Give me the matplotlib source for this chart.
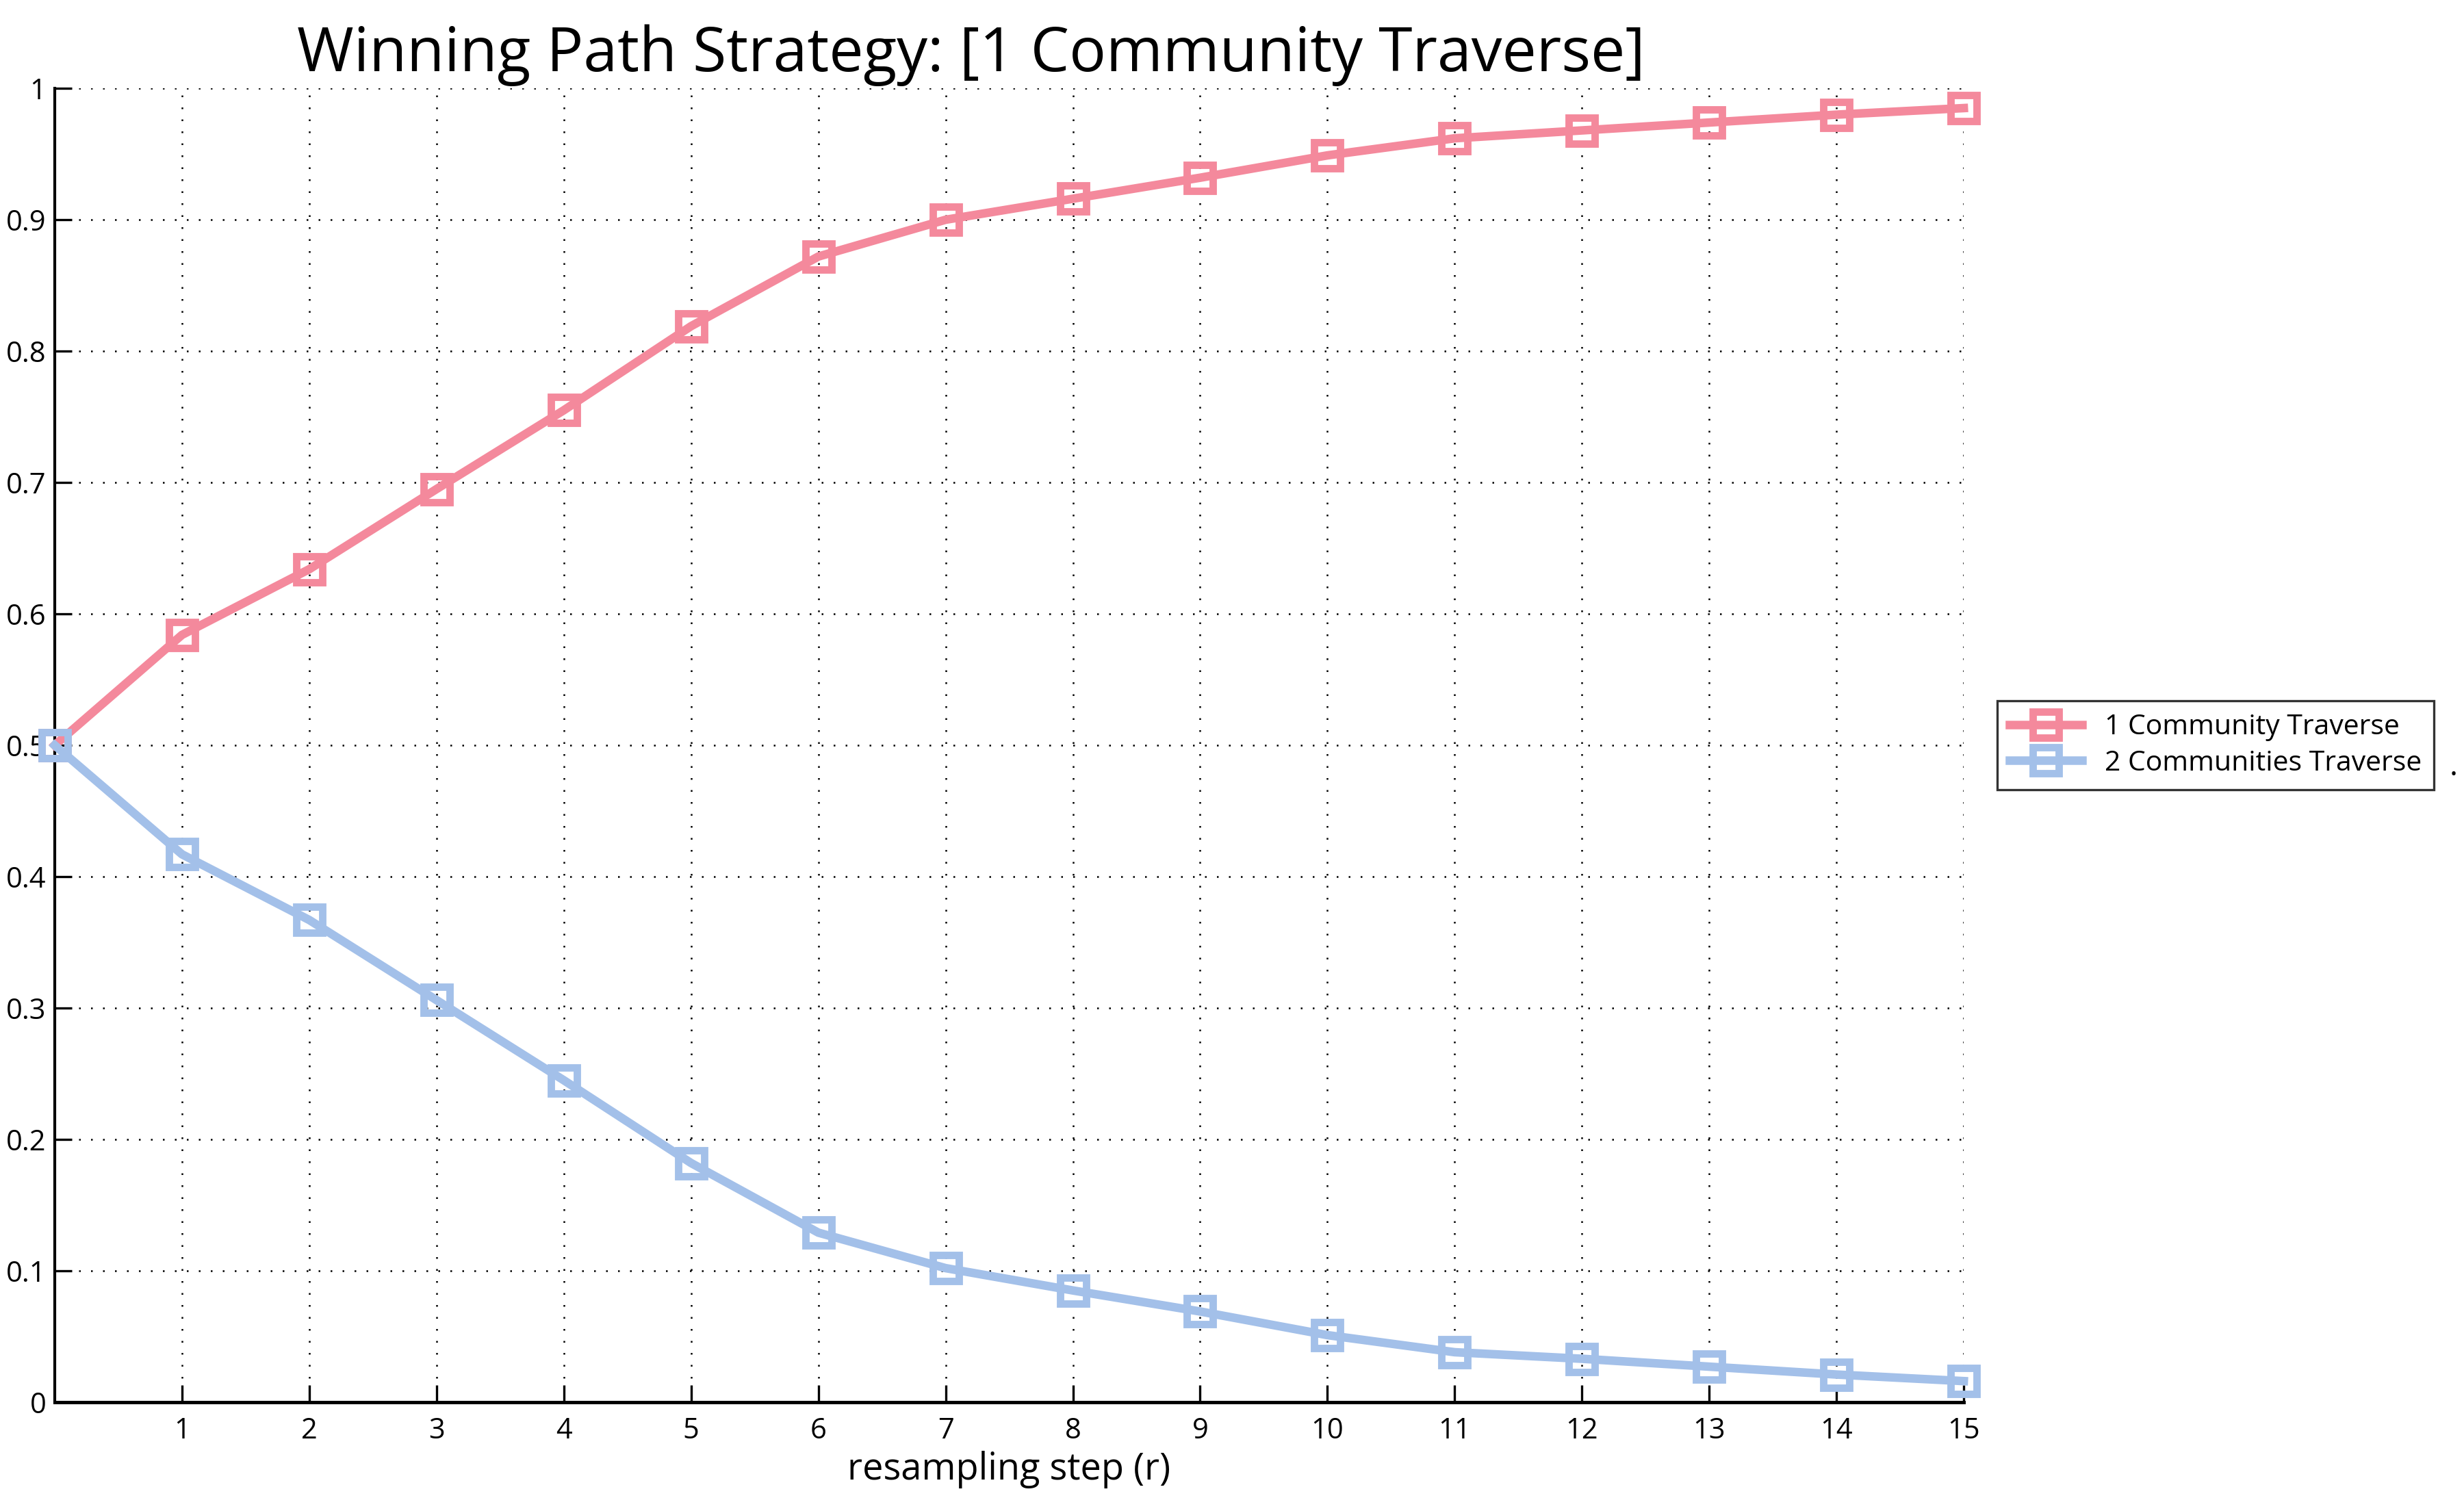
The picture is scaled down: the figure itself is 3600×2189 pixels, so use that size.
import matplotlib
matplotlib.use("Agg")
import matplotlib.pyplot as plt

plt.rcParams['font.family'] = ['Open Sans', 'DejaVu Sans']

# resampling steps and winning-path probabilities
steps = list(range(0, 16))
one_community = [0.500, 0.584, 0.634, 0.695, 0.755, 0.819, 0.872, 0.900,
                 0.916, 0.932, 0.949, 0.962, 0.968, 0.974, 0.980, 0.985]
two_communities = [0.500, 0.417, 0.367, 0.306, 0.245, 0.182, 0.129, 0.102,
                   0.085, 0.069, 0.051, 0.038, 0.033, 0.027, 0.021, 0.016]
labels = ["1 Community Traverse", "2 Communities Traverse"]
colors = ["#F4899C", "#A3C0E9"]

xticks = list(range(1, 16))
yticks = [0, 0.1, 0.2, 0.3, 0.4, 0.5, 0.6, 0.7, 0.8, 0.9, 1]
ytick_labels = ["0", "0.1", "0.2", "0.3", "0.4", "0.5", "0.6", "0.7", "0.8", "0.9", "1"]

fig = plt.figure(figsize=(12, 7.2967), dpi=300)
ax = fig.add_axes([0.0222, 0.064, 0.7748, 0.877])

for ys, lab, c in zip([one_community, two_communities], labels, colors):
    ax.plot(steps, ys, color=c, lw=3, marker='s', markersize=9,
            markerfacecolor='none', markeredgewidth=2.6, label=lab, clip_on=False, zorder=3)

ax.set_xlim(0, 15)
ax.set_ylim(0, 1)
ax.set_xticks(xticks)
ax.set_yticks(yticks)
ax.set_yticklabels(ytick_labels)
ax.tick_params(direction='in', length=6, width=0.8, labelsize=10, pad=5)
ax.tick_params(axis='y', pad=3)
ax.grid(True, linestyle=(0, (1, 6)), color='black', lw=0.6)
ax.spines['top'].set_visible(False)
ax.spines['right'].set_visible(False)
ax.spines['left'].set_linewidth(1.0)
ax.spines['bottom'].set_linewidth(1.2)

ax.set_xlabel("resampling step (r)", fontsize=13, labelpad=2)
ax.set_title("Winning Path Strategy: [1 Community Traverse]", fontsize=21.5, pad=6, x=0.48)

leg = ax.legend(loc='center left', bbox_to_anchor=(1.01, 0.5), fontsize=9.8,
                frameon=True, fancybox=False, edgecolor='black', handlelength=2.6,
                borderpad=0.45, labelspacing=0.3)
leg.get_frame().set_linewidth(0.8)
fig.text(0.9975, 0.488, ".", fontsize=11, ha='right', va='center')

fig.savefig("out.png", dpi=300, facecolor='white')
